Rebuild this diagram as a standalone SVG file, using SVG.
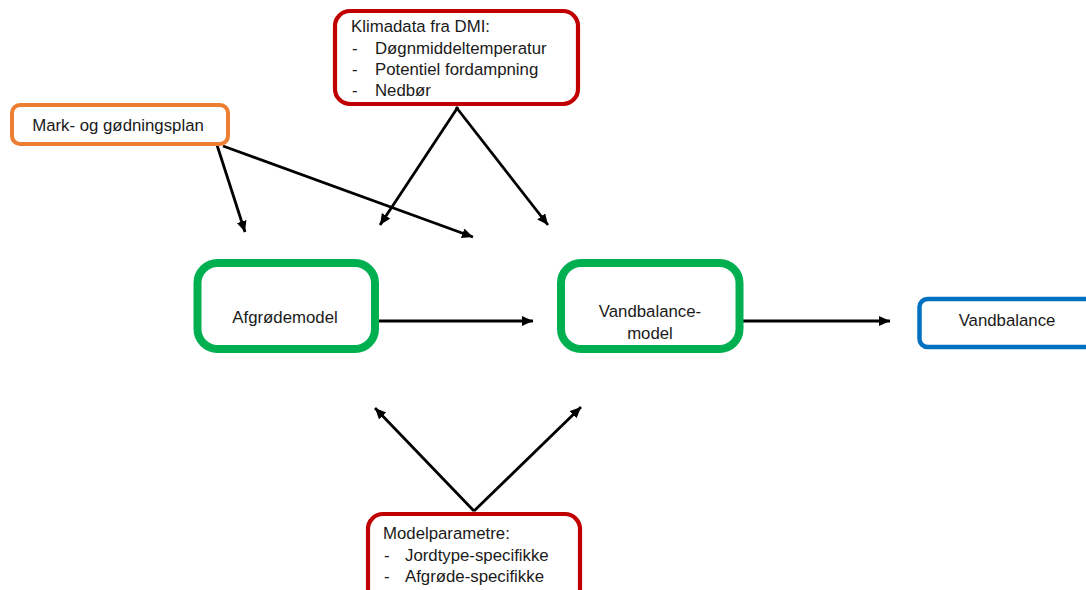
<svg xmlns="http://www.w3.org/2000/svg" width="1086" height="590" viewBox="0 0 1086 590">
<style>
text{font-family:"Liberation Sans",Arial,sans-serif;font-size:16.8px;fill:#1a1a1a}
.red{fill:#fff;stroke:#C00000;stroke-width:4.2}
.org{fill:#fff;stroke:#ED7D31;stroke-width:4}
.grn{fill:#fff;stroke:#00B050;stroke-width:8}
.blu{fill:#fff;stroke:#0070C0;stroke-width:4.5}
.c{text-anchor:middle}
.conn line{stroke:#000;stroke-width:2.8;marker-end:url(#ah)}
</style>
<defs>
<marker id="ah" markerUnits="userSpaceOnUse" markerWidth="12" markerHeight="11" refX="11" refY="5" orient="auto">
<path d="M0,0 L11,5 L0,10 z" fill="#000"/>
</marker>
</defs>
<rect width="1086" height="590" fill="#fff"/>
<g class="conn" id="connectors">
<line x1="217" y1="145" x2="245" y2="232"/>
<line x1="223" y1="146" x2="473" y2="237"/>
<line x1="458" y1="107" x2="380" y2="225"/>
<line x1="456" y1="107" x2="548" y2="225"/>
<line x1="379" y1="321" x2="533" y2="321"/>
<line x1="743" y1="321" x2="890" y2="321"/>
<line x1="474" y1="511" x2="375" y2="408"/>
<line x1="474" y1="511" x2="581" y2="407"/>
</g>
<g id="klimadata">
<rect class="red" x="335" y="11" width="243" height="93" rx="15"/>
<text x="351" y="32">Klimadata fra DMI:</text>
<text x="352" y="53.5">-</text><text x="375" y="53.5">Døgnmiddeltemperatur</text>
<text x="352" y="75">-</text><text x="375" y="75">Potentiel fordampning</text>
<text x="352" y="96">-</text><text x="375" y="96">Nedbør</text>
</g>
<g id="mark">
<rect class="org" x="12" y="105" width="216" height="39" rx="8"/>
<text class="c" x="118" y="130.5">Mark- og gødningsplan</text>
</g>
<g id="afgroedemodel">
<rect class="grn" x="197.5" y="263" width="177.5" height="86" rx="20"/>
<text class="c" x="285" y="323">Afgrødemodel</text>
</g>
<g id="vandbalancemodel">
<rect class="grn" x="561" y="263" width="178.5" height="86" rx="20"/>
<text class="c" x="650" y="317">Vandbalance-</text>
<text class="c" x="650" y="338.5">model</text>
</g>
<g id="vandbalance">
<rect class="blu" x="919.5" y="299" width="176" height="48" rx="8"/>
<text class="c" x="1007" y="326">Vandbalance</text>
</g>
<g id="modelparametre">
<rect class="red" x="368" y="514" width="212" height="90" rx="15"/>
<text x="383" y="539">Modelparametre:</text>
<text x="384" y="560.5">-</text><text x="405" y="560.5">Jordtype-specifikke</text>
<text x="384" y="582">-</text><text x="405" y="582">Afgrøde-specifikke</text>
</g>
</svg>
